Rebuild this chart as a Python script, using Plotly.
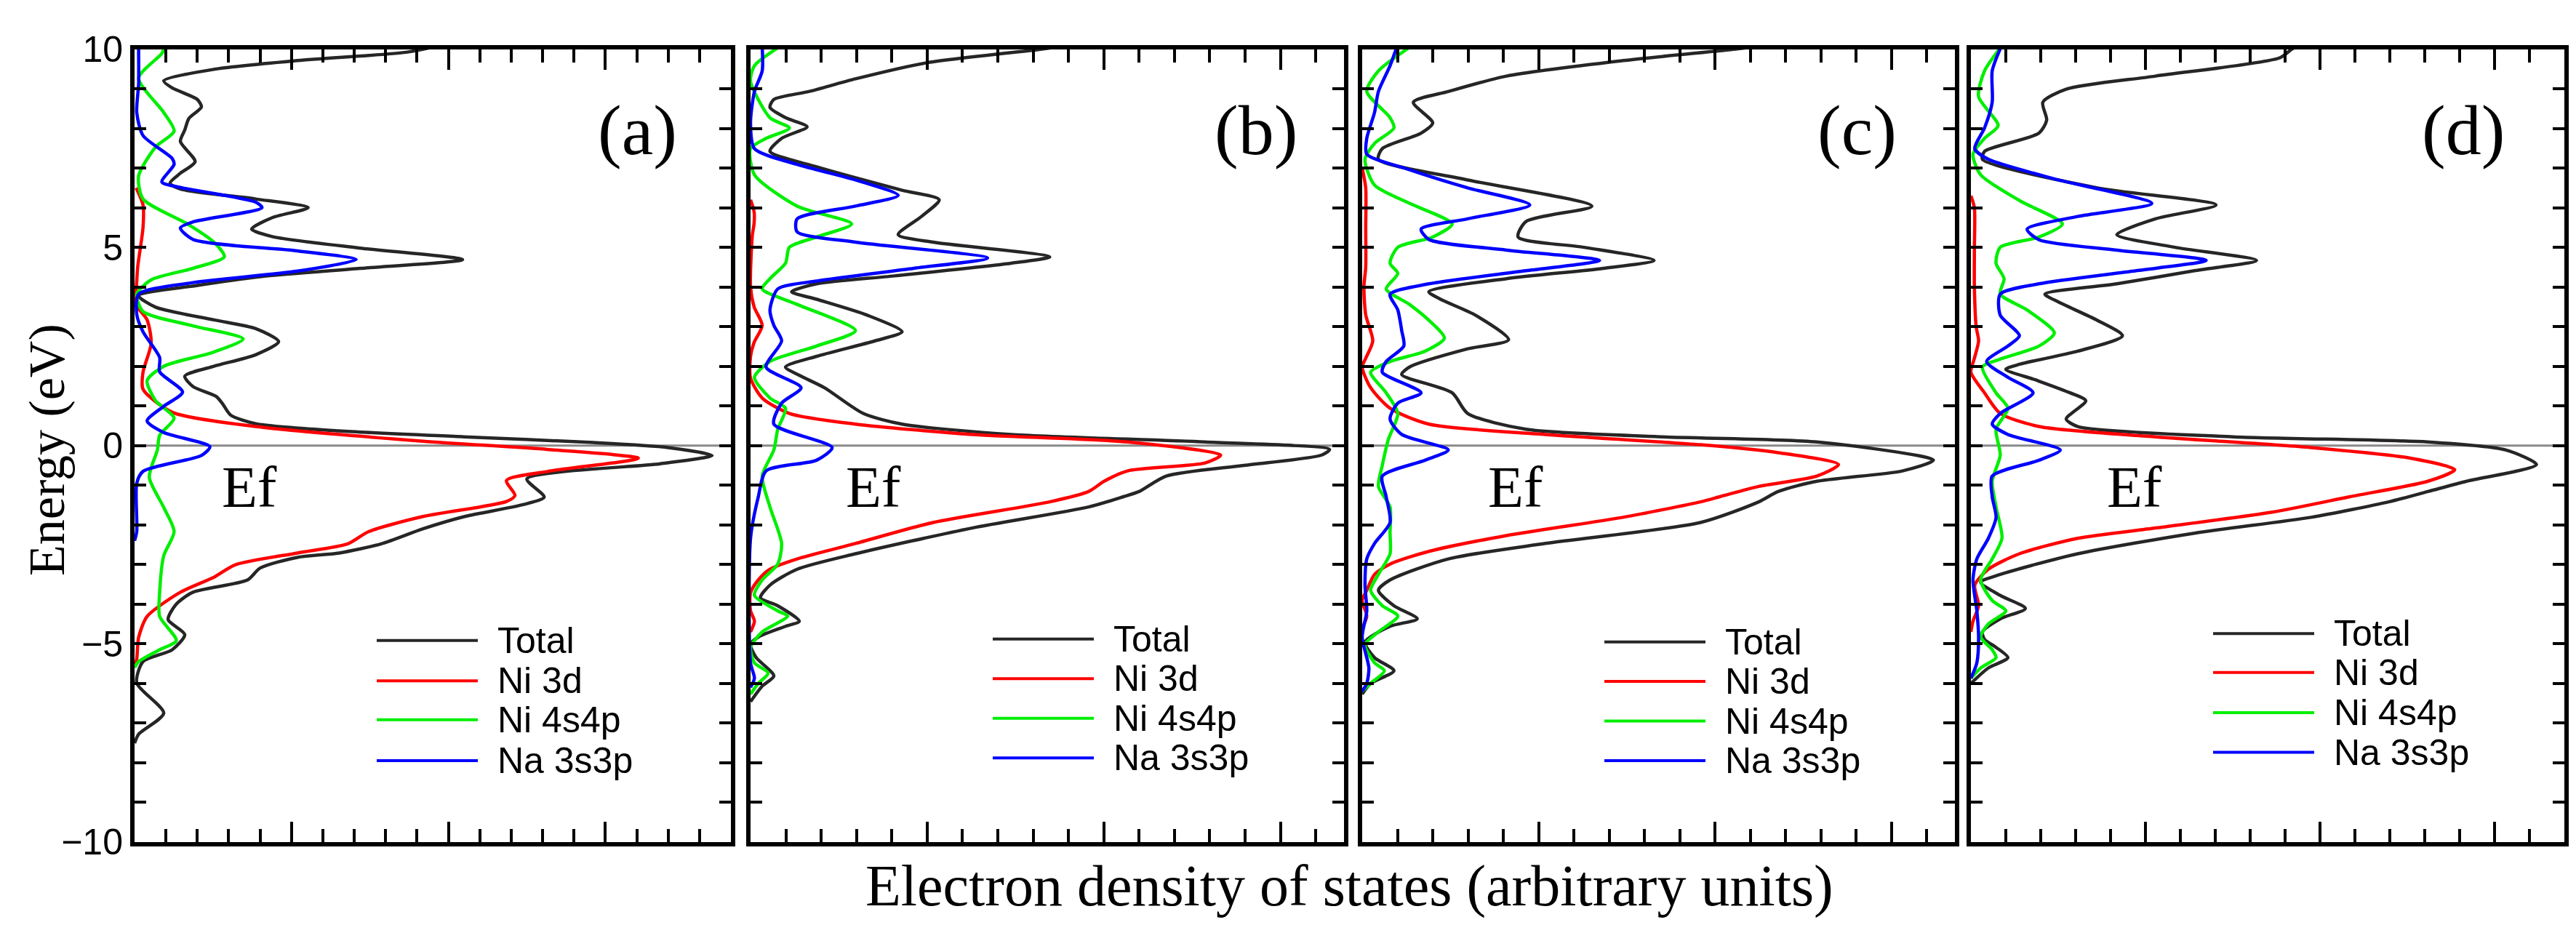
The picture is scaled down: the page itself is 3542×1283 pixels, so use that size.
import plotly.graph_objects as go

# values: energy (eV) and DOS (arb. units), top to bottom
a_total_e = [10.05, 9.92, 9.71, 9.49, 9.20, 9.02, 8.73, 8.54, 8.25, 7.96, 7.67, 7.16, 6.87, 6.62, 6.47, 6.22, 6.00, 5.75,
             5.46, 5.27, 4.98, 4.69, 4.47, 4.26, 4.04, 3.78, 3.49, 3.17, 2.95, 2.62, 2.29, 2.00, 1.75, 1.49, 1.24, 1.06,
             0.77, 0.55, 0.37, 0.22, 0.08, -0.05, -0.25, -0.46, -0.84, -1.30, -1.49, -1.79, -2.10, -2.48, -2.71, -2.82,
             -3.09, -3.39, -3.70, -4.00, -4.39, -4.77, -5.15, -5.45, -5.99, -6.75, -7.28, -7.51]
a_total_dos = [9.5, 8.65, 5.19, 2.53, 0.93, 1.2, 2.0, 2.13, 1.73, 1.6, 1.46, 1.93, 1.46, 1.13, 1.46, 3.86, 5.53, 4.39,
               3.73, 4.39, 7.19, 10.45, 7.19, 4.0, 2.0, 0.13, 0.67, 2.53, 3.86, 4.59, 3.86, 2.53, 1.6, 1.86, 2.6, 2.8,
               3.06, 3.86, 6.52, 10.5, 14.5, 17.0, 18.4, 16.75, 12.5, 13.05, 12.38, 10.52, 9.19, 7.86, 6.52, 5.19,
               4.0, 3.6, 1.86, 1.33, 1.07, 1.6, 1.2, 0.27, 0.07, 0.93, 0.13, 0.0]
a_3d_e = [6.5, 6.07, 5.5, 4.5, 3.9, 3.6, 3.17, 2.58, 1.85, 1.42, 0.84, 0.48, 0.11, -0.10, -0.32, -0.65, -0.88, -1.26,
          -1.41, -1.79, -2.17, -2.48, -2.71, -3.01, -3.32, -3.70, -4.31, -4.84, -5.38, -5.6]
a_3d_dos = [0.05, 0.27, 0.27, 0.1, 0.05, 0.0, 0.4, 0.53, 0.27, 0.27, 1.2, 3.86, 9.19, 13.18, 16.05, 13.18, 11.85, 12.12,
            11.85, 9.19, 7.46, 6.79, 5.19, 3.2, 2.53, 1.46, 0.4, 0.13, 0.07, 0.0]
a_4s4p_e = [10.05, 9.89, 9.27, 8.4, 7.93, 7.53, 6.8, 6.22, 5.57, 5.13, 4.76, 4.47, 4.18, 3.82, 3.38, 3.02, 2.69, 2.36,
            2.0, 1.64, 1.13, 0.69, 0.26, -0.1, -0.8, -1.56, -2.17, -2.78, -3.70, -4.31, -4.92, -5.15, -5.45, -5.6]
a_4s4p_dos = [0.95, 0.87, 0.13, 0.93, 1.26, 0.67, 0.13, 0.27, 1.73, 2.53, 2.86, 1.86, 0.53, 0.07, 0.27, 1.86, 3.46, 2.53,
              0.93, 0.4, 0.67, 1.26, 0.8, 0.73, 0.47, 0.93, 1.26, 0.93, 0.8, 0.8, 1.33, 0.8, 0.13, 0.0]
a_3s3p_e = [10.05, 9.89, 9.12, 8.4, 7.82, 7.24, 7.09, 6.65, 6.51, 6.14, 6.0, 5.64, 5.49, 5.2, 4.91, 4.69, 4.4, 4.11, 3.82,
            3.31, 2.87, 2.22, 1.86, 1.35, 0.99, 0.62, 0.33, -0.03, -0.25, -0.65, -0.95, -2.17, -2.4]
a_3s3p_dos = [0.13, 0.13, 0.13, 0.07, 0.27, 1.2, 1.26, 0.87, 1.46, 3.86, 4.06, 1.86, 1.46, 1.86, 5.19, 7.06, 5.19, 1.86,
              0.13, 0.07, 0.27, 0.8, 0.8, 1.53, 0.93, 0.4, 0.93, 2.4, 2.13, 0.27, 0.07, 0.07, 0.0]

b_total_e = [10.05, 10.0, 9.65, 9.25, 8.93, 8.73, 8.53, 8.27, 8.04, 7.75, 7.42, 7.03, 6.44, 6.2, 5.78, 5.32, 5.13, 4.76,
             4.6, 4.28, 4.08, 3.88, 3.69, 3.29, 2.87, 2.64, 2.25, 1.98, 1.75, 1.46, 0.81, 0.54, 0.28, 0.09, -0.1, -0.24,
             -0.5, -0.77, -1.16, -1.29, -1.55, -2.08, -2.73, -3.12, -3.52, -3.84, -4.04, -4.43, -4.56, -4.83, -5.02,
             -5.35, -5.81, -6.07, -6.46]
b_total_dos = [8.6, 8.25, 4.95, 2.97, 1.65, 0.66, 0.55, 0.99, 1.6, 0.88, 0.55, 1.87, 4.29, 5.34, 4.84, 4.18, 5.17, 8.47,
               7.37, 4.07, 1.87, 1.16, 1.87, 3.3, 4.29, 3.52, 1.87, 0.99, 1.43, 2.09, 3.19, 4.29, 7.37, 12.87, 16.39,
               16.17, 13.97, 11.77, 11.0, 10.56, 9.57, 6.27, 2.97, 1.32, 0.55, 0.28, 0.77, 1.38, 0.99, 0.22, 0.0, 0.16,
               0.66, 0.33, 0.0]
b_3d_e = [6.2, 5.9, 5.6, 5.3, 4.0, 3.5, 3.03, 2.6, 2.25, 1.7, 1.2, 0.81, 0.54, 0.28, 0.09, -0.24, -0.44, -0.64, -0.9,
          -1.16, -1.42, -1.94, -2.47, -2.86, -3.12, -3.39, -3.71, -4.17, -4.43, -4.7]
b_3d_dos = [0.0, 0.1, 0.1, 0.05, 0.0, 0.1, 0.33, 0.1, 0.0, 0.0, 0.33, 1.1, 2.97, 6.27, 10.67, 13.31, 12.87, 10.67, 10.01,
            9.57, 8.47, 5.17, 2.97, 1.32, 0.55, 0.22, 0.0, 0.0, 0.11, 0.0]
b_4s4p_e = [10.05, 9.58, 9.19, 8.27, 8.01, 7.75, 7.49, 6.83, 6.04, 5.59, 5.26, 5.0, 4.6, 4.21, 3.95, 3.56, 2.9, 2.51,
            2.12, 1.72, 1.2, 0.94, 0.41, -0.11, -0.77, -1.55, -2.47, -2.99, -3.39, -3.78, -4.17, -4.3, -4.7, -5.09,
            -5.48, -5.74, -6.0, -6.27]
b_4s4p_dos = [0.8, 0.11, 0.0, 0.55, 1.1, 0.44, 0.0, 0.11, 1.32, 2.86, 1.87, 1.1, 0.99, 0.55, 0.33, 1.32, 2.97, 1.87,
              0.55, 0.11, 0.55, 0.99, 0.77, 0.66, 0.33, 0.55, 0.88, 0.77, 0.33, 0.11, 0.77, 1.05, 0.33, 0.0, 0.11,
              0.5, 0.22, 0.0]
b_3s3p_e = [10.05, 9.45, 8.93, 8.14, 7.49, 7.09, 6.7, 6.31, 6.04, 5.72, 5.39, 5.13, 4.73, 4.47, 4.15, 3.95, 3.42, 3.03,
            2.64, 1.98, 1.46, 1.07, 0.54, -0.05, -0.37, -0.64, -1.29, -2.34, -5.48, -5.87, -6.1]
b_3s3p_dos = [0.33, 0.33, 0.11, 0.0, 0.11, 1.32, 2.97, 4.18, 2.97, 1.32, 1.32, 2.97, 6.71, 4.62, 1.87, 0.77, 0.55, 0.66,
              0.88, 0.44, 1.43, 0.88, 0.66, 2.31, 1.87, 0.44, 0.22, 0.0, 0.0, 0.11, 0.0]

c_total_e = [10.05, 10.0, 9.71, 9.32, 8.93, 8.66, 8.14, 7.88, 7.49, 7.22, 6.7, 6.04, 5.65, 5.26, 5.0, 4.67, 4.47, 4.21,
             3.88, 3.69, 3.29, 2.67, 2.44, 1.98, 1.79, 1.33, 0.81, 0.41, 0.22, 0.09, -0.37, -0.64, -0.9, -1.16, -1.42,
             -1.94, -2.47, -2.86, -3.39, -3.65, -4.04, -4.37, -4.56, -4.96, -5.35, -5.68, -6.0, -6.27]
c_total_dos = [11.0, 10.58, 7.39, 4.09, 2.44, 1.45, 2.0, 1.67, 0.57, 0.46, 2.99, 6.51, 4.64, 4.42, 6.29, 8.27, 6.84,
               4.09, 1.89, 2.22, 3.21, 4.15, 2.99, 1.34, 1.12, 2.55, 2.99, 4.64, 8.49, 12.89, 16.19, 15.31, 12.89,
               11.79, 11.24, 9.59, 5.19, 2.44, 0.79, 0.46, 0.9, 1.56, 0.79, 0.08, 0.35, 0.9, 0.24, 0.0]
c_3d_e = [7.0, 6.5, 5.5, 4.5, 4.0, 3.3, 2.64, 2.2, 1.98, 1.46, 0.94, 0.54, 0.28, 0.02, -0.18, -0.48, -0.77, -1.03,
          -1.29, -1.42, -1.81, -2.27, -2.67, -2.99, -3.25, -3.65, -3.91, -4.3, -4.6]
c_3d_dos = [0.0, 0.1, 0.1, 0.1, 0.05, 0.1, 0.3, 0.1, 0.0, 0.24, 0.79, 1.89, 5.19, 9.59, 11.79, 13.5, 12.89, 11.24,
            10.14, 9.59, 7.39, 4.09, 1.89, 0.79, 0.35, 0.13, 0.0, 0.13, 0.0]
c_4s4p_e = [10.05, 9.45, 8.93, 8.27, 8.01, 7.62, 7.22, 6.57, 6.11, 5.59, 5.26, 5.0, 4.6, 4.34, 3.95, 3.56, 3.16, 2.71,
            2.38, 2.12, 1.85, 1.33, 0.81, 0.15, -0.5, -1.03, -1.55, -2.2, -2.73, -3.25, -3.65, -4.04, -4.3, -4.7,
            -5.02, -5.48, -5.68, -6.0, -6.2]
c_4s4p_dos = [1.35, 0.46, 0.13, 0.79, 0.9, 0.35, 0.08, 0.35, 1.34, 2.55, 2.0, 1.01, 0.79, 1.01, 0.68, 1.34, 1.89, 2.33,
              1.78, 0.79, 0.24, 0.68, 1.01, 0.74, 0.57, 0.46, 0.79, 0.79, 0.79, 0.46, 0.24, 0.57, 1.01, 0.46, 0.08,
              0.35, 0.63, 0.24, 0.0]
c_3s3p_e = [10.05, 9.58, 8.93, 8.4, 7.75, 7.35, 6.96, 6.5, 6.07, 5.72, 5.46, 5.2, 4.93, 4.67, 4.41, 4.08, 3.82, 3.42,
            2.9, 2.51, 2.12, 1.85, 1.33, 1.07, 0.67, 0.28, -0.11, -0.37, -0.77, -1.29, -1.94, -2.47, -2.86, -3.52,
            -4.17, -4.83, -5.61, -6.0, -6.2]
c_3s3p_dos = [0.98, 0.79, 0.46, 0.35, 0.13, 0.13, 1.34, 2.99, 4.75, 2.99, 1.67, 1.89, 4.09, 6.73, 4.64, 1.89, 0.79,
              1.01, 1.12, 1.18, 0.68, 0.57, 1.67, 1.01, 0.79, 1.12, 2.44, 1.78, 0.57, 0.68, 0.79, 0.35, 0.13, 0.08,
              0.13, 0.0, 0.19, 0.13, 0.0]

d_total_e = [10.05, 10.0, 9.78, 9.32, 8.99, 8.66, 8.21, 7.88, 7.42, 7.22, 6.5, 6.07, 5.72, 5.32, 5.0, 4.67, 4.41, 4.08,
             3.82, 3.62, 3.16, 2.77, 2.38, 2.05, 1.92, 1.66, 1.33, 1.13, 0.67, 0.48, 0.22, 0.09, -0.11, -0.48, -0.9,
             -1.16, -1.42, -1.81, -2.21, -2.73, -3.25, -3.45, -3.78, -4.11, -4.37, -4.7, -4.89, -5.09, -5.35, -5.61,
             -6.0]
d_total_dos = [9.3, 9.19, 8.85, 5.29, 2.73, 2.06, 2.17, 1.95, 0.39, 0.33, 3.62, 7.02, 5.29, 4.18, 5.85, 8.18, 6.4, 4.18,
               2.12, 2.51, 3.62, 4.34, 3.06, 1.39, 1.0, 1.84, 2.84, 3.29, 2.73, 3.06, 7.52, 13.09, 15.31, 16.2, 14.2,
               13.09, 11.97, 9.74, 6.4, 3.06, 0.84, 0.28, 0.84, 1.56, 0.84, 0.33, 0.39, 0.72, 1.06, 0.5, 0.0]
d_3d_e = [6.3, 6.0, 5.0, 4.0, 3.0, 2.64, 2.2, 1.85, 1.33, 0.81, 0.48, 0.22, -0.05, -0.31, -0.61, -0.9, -1.29, -1.68,
          -2.08, -2.34, -2.73, -3.12, -3.52, -4.04, -4.43, -4.7]
d_3d_dos = [0.0, 0.1, 0.1, 0.1, 0.15, 0.22, 0.1, 0.0, 0.39, 0.84, 1.95, 5.29, 9.74, 12.53, 13.86, 13.09, 10.86, 8.63,
            5.29, 3.06, 1.39, 0.5, 0.11, 0.22, 0.06, 0.0]
d_4s4p_e = [10.05, 9.45, 8.8, 8.07, 7.75, 7.35, 6.83, 6.18, 5.59, 5.26, 5.0, 4.6, 4.21, 3.82, 3.42, 2.84, 2.51, 2.18,
            1.98, 1.33, 0.94, 0.41, -0.24, -0.9, -1.55, -2.34, -2.86, -3.39, -3.91, -4.17, -4.5, -4.83, -5.15, -5.35,
            -5.61, -5.87]
d_4s4p_dos = [0.86, 0.39, 0.22, 0.78, 0.39, 0.06, 0.28, 1.39, 2.62, 1.95, 0.84, 0.72, 0.95, 0.84, 1.61, 2.39, 1.95,
              0.84, 0.33, 0.72, 1.06, 0.72, 0.84, 0.61, 0.72, 0.89, 0.61, 0.28, 0.61, 1.0, 0.5, 0.28, 0.61, 0.72, 0.28,
              0.0]
d_3s3p_e = [10.05, 9.45, 8.66, 8.01, 7.49, 7.22, 6.7, 6.11, 5.78, 5.46, 5.19, 4.93, 4.67, 4.41, 4.08, 3.82, 3.29, 2.77,
            2.51, 2.12, 1.72, 1.33, 0.81, 0.54, 0.28, -0.11, -0.37, -0.77, -1.29, -1.81, -2.34, -2.86, -3.39, -4.17,
            -4.83, -5.48, -5.87]
d_3s3p_dos = [0.86, 0.61, 0.61, 0.39, 0.11, 0.5, 2.51, 5.18, 3.06, 1.61, 1.95, 4.18, 6.74, 4.73, 1.95, 0.84, 0.84, 1.39,
              1.06, 0.45, 1.06, 1.78, 0.84, 0.61, 1.06, 2.56, 1.95, 0.61, 0.61, 0.72, 0.5, 0.17, 0.06, 0.17, 0.22, 0.17,
              0.0]

series_names = ["Total", "Ni 3d", "Ni 4s4p", "Na 3s3p"]
panel_labels = ["(a)", "(b)", "(c)", "(d)"]
x_max = [19, 16.8, 16.8, 17]

panels = [
    [(a_total_e, a_total_dos), (a_3d_e, a_3d_dos), (a_4s4p_e, a_4s4p_dos), (a_3s3p_e, a_3s3p_dos)],
    [(b_total_e, b_total_dos), (b_3d_e, b_3d_dos), (b_4s4p_e, b_4s4p_dos), (b_3s3p_e, b_3s3p_dos)],
    [(c_total_e, c_total_dos), (c_3d_e, c_3d_dos), (c_4s4p_e, c_4s4p_dos), (c_3s3p_e, c_3s3p_dos)],
    [(d_total_e, d_total_dos), (d_3d_e, d_3d_dos), (d_4s4p_e, d_4s4p_dos), (d_3s3p_e, d_3s3p_dos)],
]

# page geometry in pixels
W, H = 3542, 1283
panel_px = [(177, 997), (1024, 1840), (1865, 2680), (2702, 3518)]
top_px, bottom_px = 33, 1174
colors = ["#262626", "#ff0000", "#00ee00", "#0000ff"]
ef_offset = [118, 129, 171, 185]
label_gap = [72, 62, 78, 80]
legend_rows = [[884, 942, 998, 1057], [882, 939, 996, 1053], [886, 943, 1000, 1057], [874, 930, 988, 1045]]

SERIF = "Liberation Serif, Times New Roman, serif"
SANS = "Liberation Sans, Arial, sans-serif"


def px_x(p):
    return p / W


def px_y(p):
    return 1 - p / H


fig = go.Figure()
shapes = []
annotations = []

for i, series in enumerate(panels):
    n = "" if i == 0 else str(i + 1)
    left, right = panel_px[i]

    for (e, dos), name, color in zip(series, series_names, colors):
        fig.add_trace(go.Scatter(
            x=dos, y=e, mode="lines", name=name,
            line=dict(color=color, width=4.5, shape="spline", smoothing=0.7),
            xaxis="x" + n, yaxis="y" + n, showlegend=False,
        ))

    tick_common = dict(ticks="inside", tickcolor="black", tickwidth=4, showgrid=False, zeroline=False,
                       showline=True, linecolor="black", linewidth=6, mirror="ticks")
    fig.update_layout(**{
        "xaxis" + n: dict(
            domain=[px_x(left), px_x(right)], range=[0, x_max[i]], anchor="y" + n,
            tick0=0, dtick=5, ticklen=28, showticklabels=False,
            minor=dict(dtick=1, tick0=0, ticklen=18, tickwidth=4, tickcolor="black", ticks="inside", showgrid=False),
            **tick_common,
        ),
        "yaxis" + n: dict(
            domain=[px_y(bottom_px), px_y(top_px)], range=[-10, 10], anchor="x" + n,
            tick0=0, dtick=5, ticklen=16, showticklabels=(i == 0),
            tickfont=dict(family=SANS, size=50, color="black"),
            minor=dict(dtick=1, tick0=0, ticklen=16, tickwidth=4, tickcolor="black", ticks="inside", showgrid=False),
            **tick_common,
        ),
    })

    # Fermi level
    shapes.append(dict(type="line", xref="x" + n + " domain", yref="y" + n, x0=0, x1=1, y0=0, y1=0,
                       line=dict(color="#8a8a8a", width=3), layer="below"))

    annotations.append(dict(text=panel_labels[i], xref="paper", yref="paper",
                            x=px_x(right - label_gap[i]), y=px_y(150), xanchor="right", yanchor="middle",
                            showarrow=False, font=dict(family=SERIF, size=98, color="black")))
    annotations.append(dict(text="Ef", xref="paper", yref="y" + n,
                            x=px_x(left + ef_offset[i]), y=-1.05, xanchor="left", yanchor="middle",
                            showarrow=False, font=dict(family=SERIF, size=80, color="black")))

    # per-panel legend
    for row_y, name, color in zip(legend_rows[i], series_names, colors):
        shapes.append(dict(type="line", xref="paper", yref="paper",
                           x0=px_x(left + 333), x1=px_x(left + 472), y0=px_y(row_y), y1=px_y(row_y),
                           line=dict(color=color, width=4)))
        annotations.append(dict(text=name, xref="paper", yref="paper",
                                x=px_x(left + 497), y=px_y(row_y), xanchor="left", yanchor="middle",
                                showarrow=False, font=dict(family=SANS, size=50, color="black")))

annotations.append(dict(text="Energy (eV)", xref="paper", yref="paper", x=px_x(57), y=px_y(610),
                        xanchor="center", yanchor="middle", textangle=-90, showarrow=False,
                        font=dict(family=SERIF, size=70, color="black")))
annotations.append(dict(text="Electron density of states (arbitrary units)", xref="paper", yref="paper",
                        x=px_x(1847), y=px_y(1237), xanchor="center", yanchor="middle", showarrow=False,
                        font=dict(family=SERIF, size=80, color="black")))

fig.update_layout(
    width=W, height=H,
    margin=dict(l=0, r=0, t=0, b=0),
    paper_bgcolor="white", plot_bgcolor="white",
    showlegend=False,
    shapes=shapes, annotations=annotations,
)

fig.write_html("out.html")
